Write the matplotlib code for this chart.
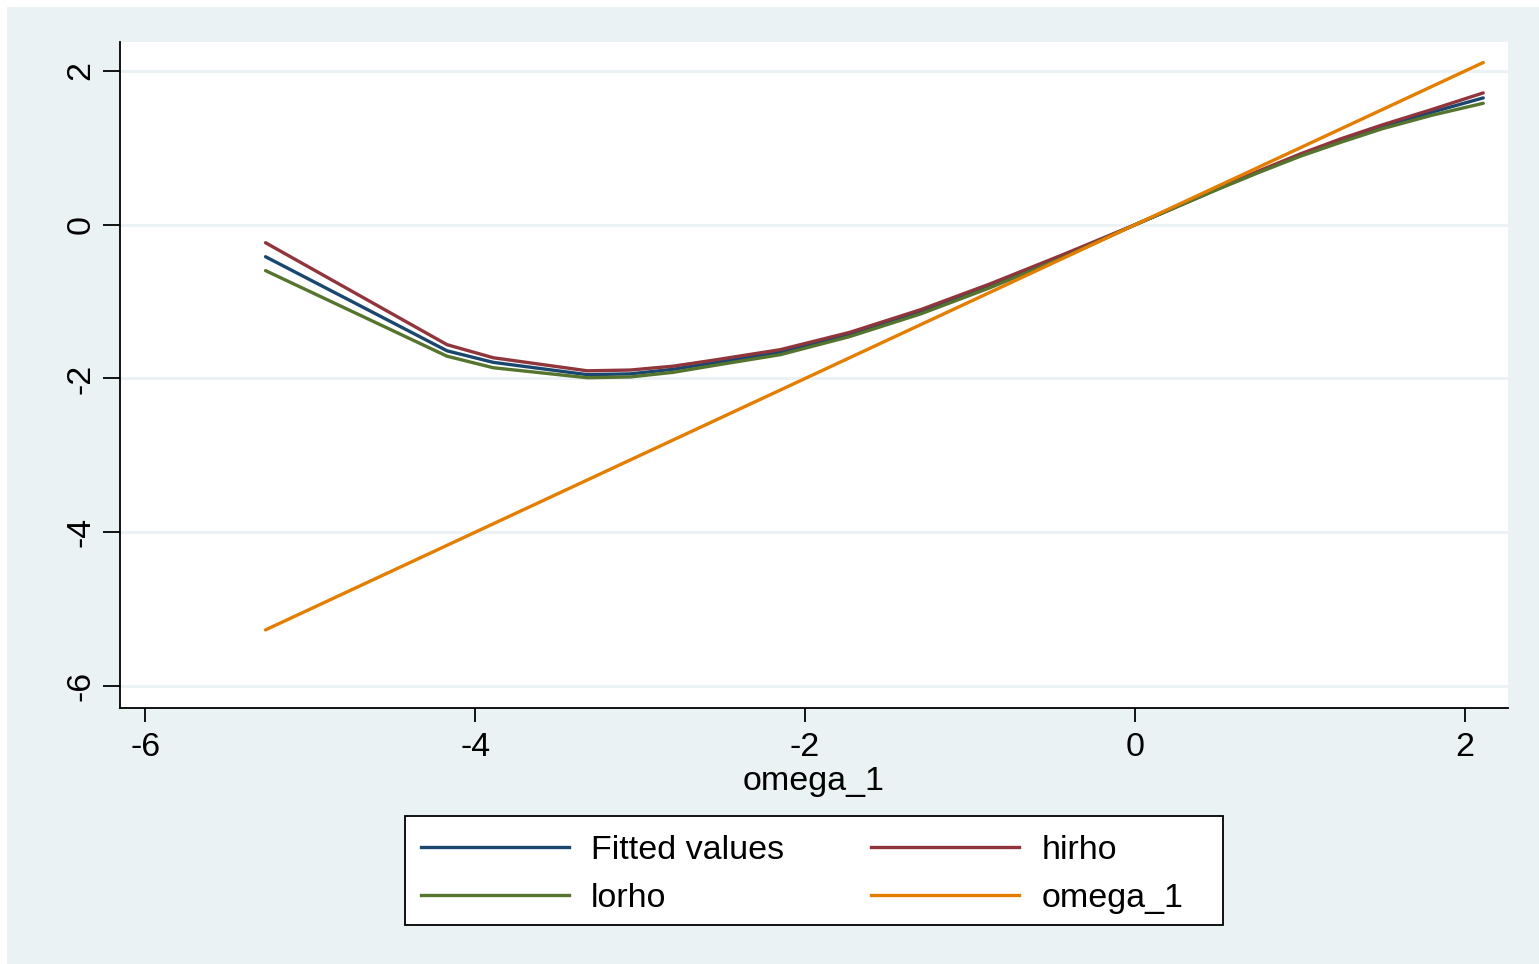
import numpy as np
import matplotlib.pyplot as plt
from matplotlib.patches import Rectangle
from matplotlib.lines import Line2D

# values
omega_x = [-5.27, -4.17, -3.89, -3.32, -3.06, -2.8, -2.55, -2.15, -1.73, -1.30,
           -0.88, -0.45, 0.0, 0.5, 0.75, 1.0, 1.25, 1.5, 1.8, 2.11]
fitted = [-0.416, -1.64, -1.79, -1.95, -1.94, -1.88, -1.795, -1.66, -1.43, -1.13,
          -0.795, -0.42, 0.0, 0.465, 0.69, 0.905, 1.10, 1.28, 1.465, 1.65]
hirho = [-0.234, -1.56, -1.73, -1.90, -1.89, -1.84, -1.76, -1.625, -1.40, -1.105,
         -0.77, -0.40, 0.0, 0.47, 0.70, 0.92, 1.12, 1.30, 1.50, 1.715]
lorho = [-0.597, -1.71, -1.86, -1.99, -1.98, -1.92, -1.83, -1.69, -1.455, -1.16,
         -0.82, -0.44, 0.0, 0.46, 0.68, 0.89, 1.075, 1.25, 1.425, 1.58]
omega_1 = [-5.27, -4.17, -3.89, -3.32, -3.06, -2.8, -2.55, -2.15, -1.73, -1.30,
           -0.88, -0.45, 0.0, 0.5, 0.75, 1.0, 1.25, 1.5, 1.8, 2.11]

xticks = [-6, -4, -2, 0, 2]
yticks = [-6, -4, -2, 0, 2]

plt.rcParams['font.family'] = ['Liberation Sans', 'DejaVu Sans']

BG = '#eaf2f3'
colors = {'Fitted values': '#1a476f', 'hirho': '#90353b',
          'lorho': '#55752f', 'omega_1': '#e37e00'}
FS = 24.5

W, H = 1539, 964
fig = plt.figure(figsize=(W / 100, H / 100), dpi=100)
fig.patch.set_facecolor('white')
fig.patches.append(Rectangle((7 / W, 0), 1, 1 - 7 / H, transform=fig.transFigure,
                             facecolor=BG, edgecolor='none', zorder=-10))

ax = fig.add_axes([120 / W, 1 - 708 / H, (1508 - 120) / W, (708 - 42) / H])
ax.set_facecolor('white')

lw = 2.4
series = [('Fitted values', fitted), ('hirho', hirho),
          ('lorho', lorho), ('omega_1', omega_1)]
for name, vals in series:
    ax.plot(omega_x, vals, color=colors[name], lw=lw,
            solid_joinstyle='round', solid_capstyle='round')

ax.set_xlim(-6.152, 2.26)
ax.set_ylim(-6.286, 2.377)
ax.set_xticks(xticks)
ax.set_yticks(yticks)
ax.set_xticklabels([str(t) for t in xticks])
ax.set_yticklabels([str(t) for t in yticks], rotation=90, va='center')
ax.tick_params(axis='both', labelsize=FS, width=1.3, colors='black')
ax.tick_params(axis='x', length=10, pad=7.5)
ax.tick_params(axis='y', length=12.5, pad=4.5)
ax.grid(axis='y', color=BG, lw=2.2)
ax.set_axisbelow(True)
for side in ['top', 'right']:
    ax.spines[side].set_visible(False)
for side in ['left', 'bottom']:
    ax.spines[side].set_linewidth(1.3)
ax.set_xlabel('omega_1', fontsize=FS, labelpad=2)

# legend box drawn by hand, Stata leaves extra room on the right
fig.patches.append(Rectangle((405 / W, 1 - 925 / H), 818 / W, 109 / H,
                             transform=fig.transFigure, facecolor='white',
                             edgecolor='black', lw=1.3, zorder=5))

# Stata fills legend row by row
order = ['Fitted values', 'lorho', 'hirho', 'omega_1']
handles = [Line2D([], [], color=colors[n], lw=lw) for n in order]
leg = fig.legend(handles, order, ncol=2, loc='center left',
                 bbox_to_anchor=(421 / W, 1 - 874.5 / H), fontsize=FS,
                 frameon=False, borderpad=0, borderaxespad=0,
                 handlelength=4.35, handletextpad=0.65, columnspacing=2.56,
                 labelspacing=0.51)
leg.set_zorder(6)

fig.savefig('out.png', dpi=100, facecolor=fig.get_facecolor())
